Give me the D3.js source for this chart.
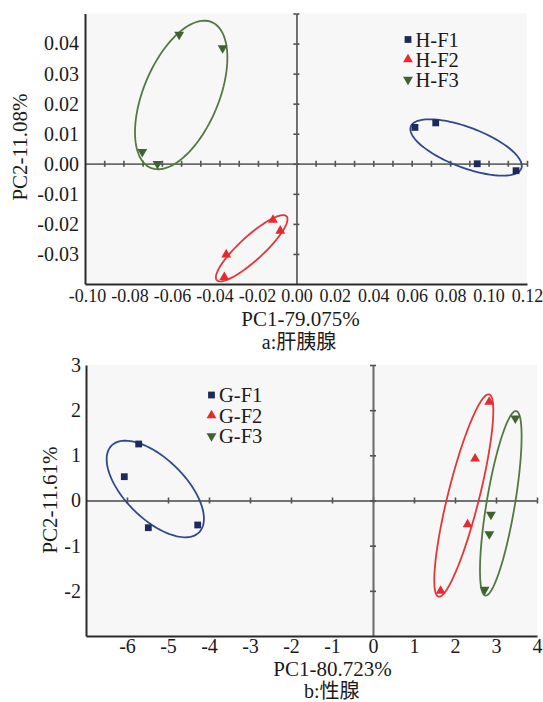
<!DOCTYPE html>
<html><head><meta charset="utf-8">
<script src="https://cdn.jsdelivr.net/npm/d3@7"></script>
<style>
body{margin:0;background:#fff}
text{font-family:"Liberation Serif","Times New Roman","Noto Sans CJK SC",serif;fill:#1a1a1a}
</style>
</head><body>
<svg id="c" width="543" height="702"></svg>
<script>
// ---------- data ----------
// Panel a: hepatopancreas
const hGroups = ["H-F1", "H-F2", "H-F3"];
const hF1 = [[0.0617, 0.0121], [0.0725, 0.0136], [0.0941, 0.0000], [0.1143, -0.0023]];
const hF2 = [[-0.0122, -0.0187], [-0.0084, -0.0223], [-0.0365, -0.0302], [-0.0375, -0.0377]];
const hF3 = [[-0.0610, 0.0430], [-0.0384, 0.0385], [-0.0802, 0.0040], [-0.0723, 0.0000]];
// confidence ellipses: centre and two semi-axis vectors, in data units
const hEll1 = {c: [0.0883, 0.00542], u: [0.02875, -0.00698], v: [-0.00372, -0.00625]};
const hEll2 = {c: [-0.02326, -0.02811], u: [0.01815, 0.01063], v: [0.00422, -0.00294]};
const hEll3 = {c: [-0.05995, 0.02289], u: [0.01587, 0.02424], v: [0.01805, -0.00483]};
const hXTicks = [-0.10, -0.08, -0.06, -0.04, -0.02, 0.00, 0.02, 0.04, 0.06, 0.08, 0.10, 0.12];
const hYTicks = [-0.03, -0.02, -0.01, 0.00, 0.01, 0.02, 0.03, 0.04];
const hXMinor = d3.range(-10, 13).map(i => i / 100);
const hYMinor = d3.range(-3, 6).map(i => i / 100);
const hXDomain = [-0.11, 0.12];
const hYDomain = [-0.04, 0.05];
const hXTitle = "PC1-79.075%";
const hYTitle = "PC2-11.08%";
const hCaption = "a:肝胰腺";

// Panel b: gonad
const gGroups = ["G-F1", "G-F2", "G-F3"];
const gF1 = [[-5.715, 1.251], [-6.066, 0.527], [-5.480, -0.602], [-4.276, -0.542]];
const gF2 = [[2.834, 2.181], [2.490, 0.925], [2.307, -0.531], [1.649, -2.004]];
const gF3 = [[3.471, 1.820], [2.876, -0.310], [2.837, -0.742], [2.722, -1.975]];
const gEll1 = {c: [-5.310, 0.2546], u: [1.0687, -0.9586], v: [-0.5152, -0.4732]};
const gEll2 = {c: [2.2146, 0.1107], u: [0.6173, 2.2389], v: [0.3708, -0.0842]};
const gEll3 = {c: [3.117, -0.062], u: [0.3765, 2.0427], v: [0.3404, -0.0517]};
const gXTicks = [-6, -5, -4, -3, -2, -1, 0, 1, 2, 3, 4];
const gYTicks = [-2, -1, 0, 1, 2, 3];
const gXDomain = [-7, 4];
const gYDomain = [-3, 3];
const gXTitle = "PC1-80.723%";
const gYTitle = "PC2-11.61%";
const gCaption = "b:性腺";

// ---------- drawing ----------
const svg = d3.select("#c");
const COLORS = {
  fill: ["#1b2a5a", "#e62a2e", "#3e6331"],
  ring: ["#2e4a8b", "#e2373b", "#52793f"]
};
const SYMS = [
  {type: d3.symbolSquare, size: 46, rot: 0},
  {type: d3.symbolTriangle, size: 42, rot: 0},
  {type: d3.symbolTriangle, size: 42, rot: 180}
];
const fmtDash = p => v => (Math.abs(v) < 1e-12 ? (0).toFixed(p) : v.toFixed(p));

function styleAxis(g, col, w) {
  g.attr("font-size", null).attr("font-family", null);
  g.selectAll("path.domain").attr("stroke", col).attr("stroke-width", w);
  g.selectAll(".tick line").attr("stroke", "#505050").attr("stroke-width", 1.6);
}

function panel(o) {
  const g = svg.append("g");
  const x = d3.scaleLinear().domain(o.xDomain).range([o.left, o.right]);
  const y = d3.scaleLinear().domain(o.yDomain).range([o.bottom, o.top]);

  g.append("rect").attr("x", o.left).attr("y", o.top)
    .attr("width", o.right - o.left).attr("height", o.bottom - o.top)
    .attr("fill", "#f7f7f7");

  // central cross axes with two-sided ticks
  const x0 = x(0), y0 = y(0);
  [d3.axisTop, d3.axisBottom].forEach(ax => {
    g.append("g").attr("transform", `translate(0,${y0})`)
      .call(ax(x).tickValues(o.xMinor).tickSize(3).tickSizeOuter(0).tickFormat(""))
      .call(s => styleAxis(s, "#6a6a6a", 1.6));
  });
  [d3.axisLeft, d3.axisRight].forEach(ax => {
    g.append("g").attr("transform", `translate(${x0},0)`)
      .call(ax(y).tickValues(o.yMinor).tickSize(3).tickSizeOuter(0).tickFormat(""))
      .call(s => styleAxis(s, "#6a6a6a", 1.6));
  });

  // outer axes (left & bottom) with labels
  const gy = g.append("g").attr("transform", `translate(${o.left},0)`)
    .call(d3.axisLeft(y).tickValues(o.yTicks).tickSize(0).tickSizeOuter(0)
      .tickPadding(o.yPad).tickFormat(fmtDash(o.prec)))
    .call(s => styleAxis(s, "#2a2a2a", 2));
  gy.selectAll("text").attr("font-size", o.yFont).attr("fill", "#1a1a1a");

  const gx = g.append("g").attr("transform", `translate(0,${o.bottom})`)
    .call(d3.axisBottom(x).tickValues(o.xTicks).tickSize(0).tickSizeOuter(0)
      .tickPadding(o.xPad).tickFormat(fmtDash(o.prec)))
    .call(s => styleAxis(s, "#2a2a2a", 2));
  gx.selectAll("text").attr("font-size", o.xFont).attr("fill", "#1a1a1a");

  // push crowded tick labels apart (outwards from zero), as in the original
  if (o.declutter) {
    const nodes = gx.selectAll(".tick").nodes()
      .sort((a, b) => d3.select(a).datum() - d3.select(b).datum());
    const vals = nodes.map(n => d3.select(n).datum());
    const pos = vals.map(v => x(v));
    const w = nodes.map(n => n.querySelector("text").getComputedTextLength());
    const c = pos.slice();
    const i0 = vals.findIndex(v => Math.abs(v) < 1e-12);
    for (let i = i0 - 1; i >= 0; i--) {
      const lim = c[i + 1] - w[i + 1] / 2 - o.gap;
      if (c[i] + w[i] / 2 > lim) c[i] = lim - w[i] / 2;
    }
    for (let i = i0 + 1; i < c.length; i++) {
      const lim = c[i - 1] + w[i - 1] / 2 + o.gap;
      if (c[i] - w[i] / 2 < lim) c[i] = lim + w[i] / 2;
    }
    nodes.forEach((n, i) => d3.select(n).select("text").attr("x", c[i] - pos[i]));
  }

  // ellipses
  const ts = d3.range(0, 361, 3).map(a => a * Math.PI / 180);
  const line = d3.line().curve(d3.curveLinearClosed);
  o.ellipses.forEach((e, k) => {
    const pts = ts.map(t => [
      x(e.c[0] + Math.cos(t) * e.u[0] + Math.sin(t) * e.v[0]),
      y(e.c[1] + Math.cos(t) * e.u[1] + Math.sin(t) * e.v[1])
    ]);
    g.append("path").attr("d", line(pts)).attr("fill", "none")
      .attr("stroke", COLORS.ring[k]).attr("stroke-width", 1.8);
  });

  // points
  o.series.forEach((s, k) => {
    const sym = d3.symbol().type(SYMS[k].type).size(SYMS[k].size);
    g.selectAll(null).data(s).join("path")
      .attr("d", sym)
      .attr("transform", d => `translate(${x(d[0])},${y(d[1])}) rotate(${SYMS[k].rot})`)
      .attr("fill", COLORS.fill[k]);
  });

  // legend
  const lg = g.append("g");
  o.groups.forEach((name, k) => {
    const ly = o.legY + k * o.legStep;
    const sym = d3.symbol().type(SYMS[k].type).size(SYMS[k].size);
    lg.append("path").attr("d", sym)
      .attr("transform", `translate(${o.legX},${ly}) rotate(${SYMS[k].rot})`)
      .attr("fill", COLORS.fill[k]);
    lg.append("text").attr("x", o.legX + 7.5).attr("y", ly).attr("dy", "0.35em")
      .attr("font-size", 20.5).text(name);
  });

  // titles
  g.append("text").attr("x", o.xTitleX).attr("y", o.xTitleY)
    .attr("text-anchor", "middle").attr("font-size", 21).text(o.xTitle);
  g.append("text").attr("x", o.capX).attr("y", o.capY)
    .attr("text-anchor", "middle").attr("font-size", 20).text(o.caption);
  g.append("text").attr("transform", `translate(${o.yTitleX},${o.yTitleY}) rotate(-90)`)
    .attr("text-anchor", "middle").attr("dy", "0.35em").attr("font-size", 21).text(o.yTitle);
}

panel({
  left: 85, right: 527, top: 13.5, bottom: 284,
  xDomain: hXDomain, yDomain: hYDomain,
  xTicks: hXTicks, yTicks: hYTicks, xMinor: hXMinor, yMinor: hYMinor,
  prec: 2, xFont: 18, yFont: 20, xPad: 5, yPad: 6, declutter: true, gap: 5,
  series: [hF1, hF2, hF3], ellipses: [hEll1, hEll2, hEll3], groups: hGroups,
  legX: 408, legY: 39.5, legStep: 20,
  xTitle: hXTitle, xTitleX: 300.5, xTitleY: 326,
  caption: hCaption, capX: 299, capY: 349,
  yTitle: hYTitle, yTitleX: 19.5, yTitleY: 147
});

panel({
  left: 86, right: 537, top: 365, bottom: 636,
  xDomain: gXDomain, yDomain: gYDomain,
  xTicks: gXTicks, yTicks: gYTicks, xMinor: gXTicks, yMinor: gYTicks,
  prec: 0, xFont: 20, yFont: 20, xPad: 3, yPad: 5, declutter: false, gap: 0,
  series: [gF1, gF2, gF3], ellipses: [gEll1, gEll2, gEll3], groups: gGroups,
  legX: 211.5, legY: 395, legStep: 20.5,
  xTitle: gXTitle, xTitleX: 332.5, xTitleY: 676,
  caption: gCaption, capX: 331.7, capY: 698,
  yTitle: gYTitle, yTitleX: 50, yTitleY: 500
});
</script>
</body></html>
